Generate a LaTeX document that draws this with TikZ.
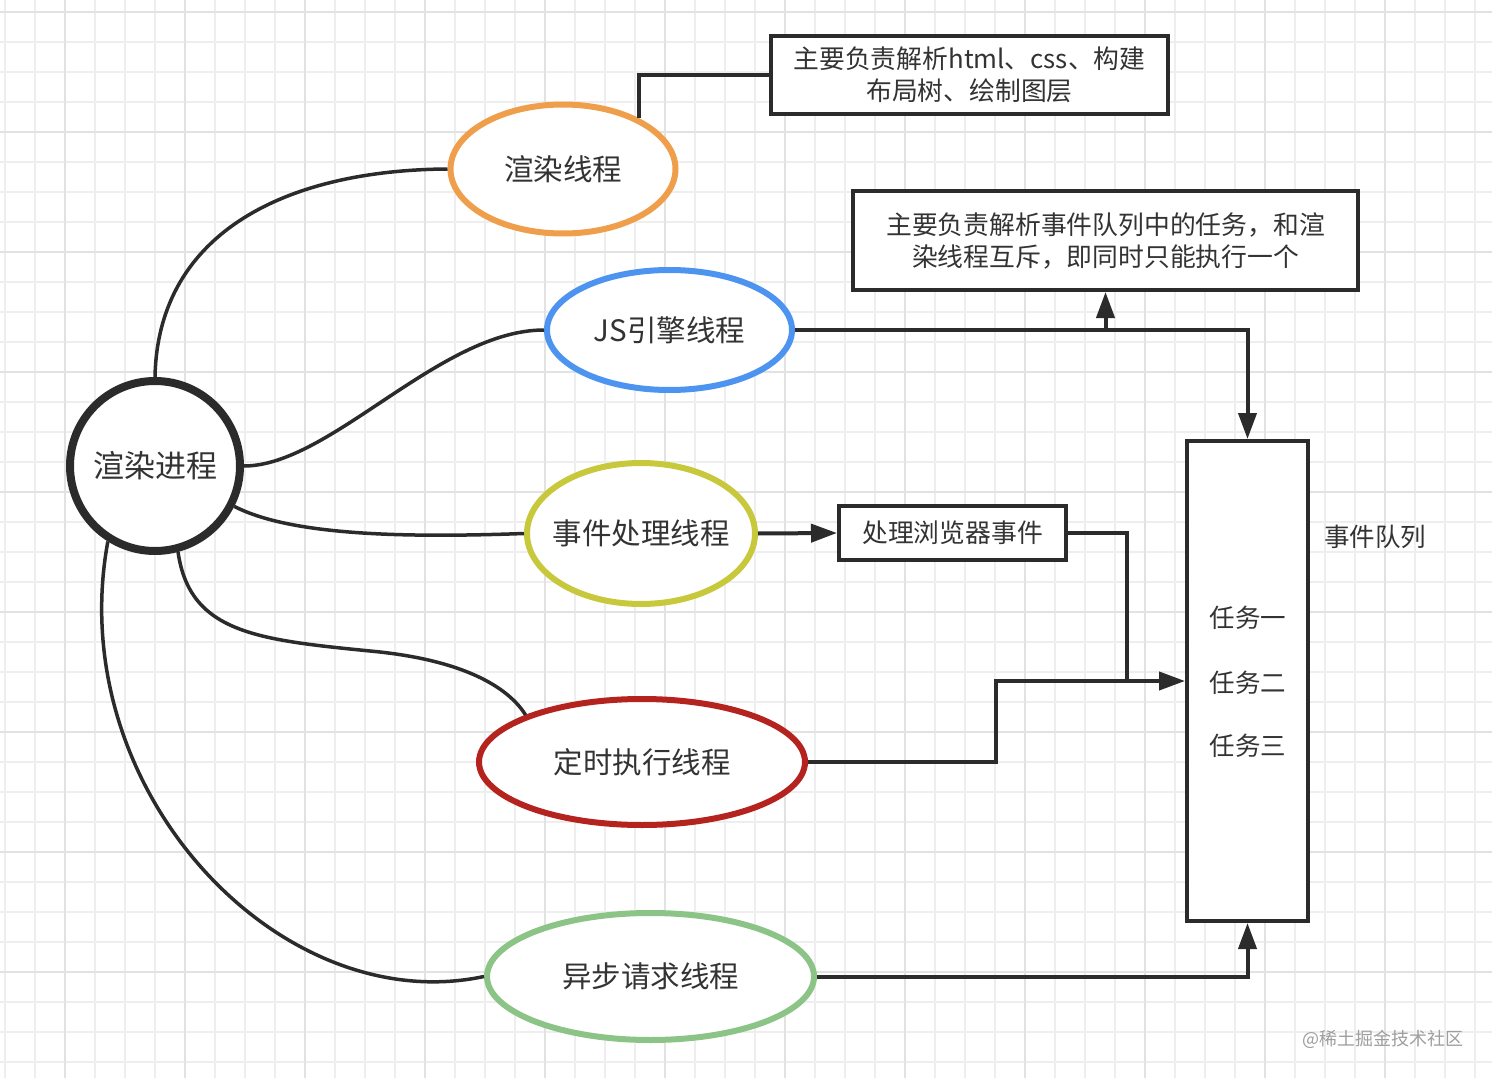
\documentclass[tikz,border=0pt]{standalone}
\usepackage{fontspec}
\setmainfont{Noto Sans CJK SC}
\usetikzlibrary{shapes.geometric,arrows.meta,calc}
\definecolor{linec}{HTML}{2B2B2B}
\definecolor{textc}{HTML}{333333}
\definecolor{gridminor}{HTML}{EEEEEE}
\definecolor{gridmajor}{HTML}{E2E2E2}
\definecolor{orangec}{HTML}{EF9F4B}
\definecolor{bluec}{HTML}{4D94F0}
\definecolor{yellowc}{HTML}{C8C83C}
\definecolor{redc}{HTML}{B4231E}
\definecolor{greenc}{HTML}{8CC487}
\tikzset{
  thread/.style={ellipse, draw=#1, line width=6pt, fill=white, inner sep=0pt},
  threadtext/.style={inner sep=0pt, text=textc, font=\fontsize{29.5}{34}\selectfont},
  notebox/.style={rectangle, draw=linec, line width=4pt, fill=white, inner sep=0pt,
    align=center, text=textc, font=\fontsize{25.8}{32}\selectfont},
  plaintext/.style={inner sep=0pt, text=textc, font=\fontsize{25.5}{32}\selectfont},
  conn/.style={draw=linec, line width=4pt},
  curveline/.style={draw=linec, line width=3.5pt},
  arr/.style={-{Triangle[length=26pt,width=18pt]}}
}
\begin{document}
\begin{tikzpicture}[x=1pt,y=-1pt]
\useasboundingbox (0,0) rectangle (1492,1078);
\fill[white] (0,0) rectangle (1492,1078);
% grid
\foreach \x in {5,35,...,1490} \draw[gridminor, line width=1.2pt] (\x,0) -- (\x,1078);
\foreach \y in {12,42,...,1078} \draw[gridminor, line width=1.2pt] (0,\y) -- (1492,\y);
\foreach \x in {65,185,...,1490} \draw[gridmajor, line width=1.4pt] (\x,0) -- (\x,1078);
\foreach \y in {12,132,...,1078} \draw[gridmajor, line width=1.4pt] (0,\y) -- (1492,\y);

% nodes
\node[circle, draw=linec, line width=8pt, fill=white, minimum size=170pt, inner sep=0pt,
      text=textc, font=\fontsize{31}{36}\selectfont] (proc) at (155,466) {渲染进程};
\node[thread=orangec, minimum width=225pt, minimum height=129pt,
      label={[threadtext]center:渲染线程}] (render) at (563,169) {};
\node[thread=bluec, minimum width=245pt, minimum height=120pt,
      label={[threadtext]center:JS引擎线程}] (js) at (669.5,330) {};
\node[thread=yellowc, minimum width=228pt, minimum height=141pt,
      label={[threadtext]center:事件处理线程}] (evt) at (641,533.5) {};
\node[thread=redc, minimum width=326pt, minimum height=126pt,
      label={[threadtext]center:定时执行线程}] (timer) at (642,762) {};
\node[thread=greenc, minimum width=327pt, minimum height=127pt,
      label={[threadtext]center:异步请求线程}] (async) at (650.5,976.5) {};

\node[notebox, minimum width=397pt, minimum height=78pt] (note1) at (969.5,75)
  {主要负责解析html、css、构建\\布局树、绘制图层};
\node[notebox, minimum width=505pt, minimum height=99pt] (note2) at (1105.5,240.5)
  {主要负责解析事件队列中的任务，和渲\\染线程互斥，即同时只能执行一个};
\node[notebox, minimum width=227pt, minimum height=54pt] (browser) at (952.5,533)
  {处理浏览器事件};
\node[rectangle, draw=linec, line width=4pt, fill=white, minimum width=121pt,
      minimum height=480pt, inner sep=0pt] (queue) at (1247.5,681) {};
\node[plaintext] (t1) at (1248,618) {任务一};
\node[plaintext] (t2) at (1248,683) {任务二};
\node[plaintext] (t3) at (1248,746) {任务三};
\node[plaintext] (qlabel) at (1375,537) {事件队列};
\node[inner sep=0pt, text=black!38, font=\fontsize{18}{22}\selectfont] (wm) at (1383,1039) {@稀土掘金技术社区};

% coordinates
\coordinate (jsb) at (1105.5,330);
\coordinate (bbend) at (1127,0);
\coordinate (tbend) at (996,0);

% curves from process circle
\draw[curveline] (proc.north) .. controls (158,230) and (290,170) .. (render.west);
\draw[curveline] (proc.east) .. controls (330,466) and (440,330) .. (js.west);
\draw[curveline] (proc.-27) .. controls (290,535) and (400,538) .. (evt.west);
\draw[curveline] (proc.-75) .. controls (190,635) and (260,640) .. (380,652)
  .. controls (470,662) and (510,690) .. (timer.158);
\draw[curveline] (proc.-122) .. controls (62,790) and (280,1020) .. (async.west);

% orthogonal connectors
\draw[conn] (render.34) |- (note1.west);
\draw[conn, arr] (js.east) -| (queue.north);
\draw[conn, arr] (jsb) -- (note2.south);
\draw[conn, arr] (evt.east) -- (browser.west);
\draw[conn] (browser.east) -| (bbend |- queue.west);
\draw[conn, arr] (timer.east) -| (tbend |- queue.west) -- (queue.west);
\draw[conn, arr] (async.east) -| (queue.south);
\end{tikzpicture}
\end{document}
